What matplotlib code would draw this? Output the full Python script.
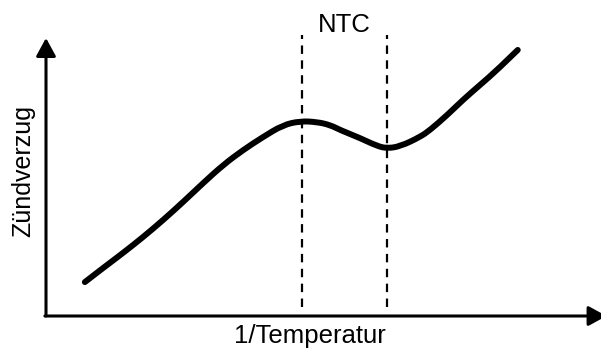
import numpy as np
import matplotlib.pyplot as plt
from matplotlib.path import Path
from matplotlib.patches import PathPatch

plt.rcParams['font.family'] = ['Liberation Sans', 'DejaVu Sans']

# ignition delay vs. inverse temperature (schematic units 0..10)
inv_temp = [0.70, 1.03, 1.39, 1.75, 2.11, 2.47, 2.83, 3.19, 3.55, 3.91,
            4.27, 4.58, 4.88, 5.12, 5.30, 5.66, 5.96, 6.14, 6.38, 6.74,
            6.92, 7.23, 7.51, 7.82, 8.13, 8.50]
delay = [1.22, 1.73, 2.27, 2.84, 3.45, 4.10, 4.78, 5.43, 5.97, 6.44,
         6.87, 7.01, 6.98, 6.87, 6.69, 6.40, 6.12, 6.03, 6.10, 6.44,
         6.69, 7.23, 7.77, 8.31, 8.85, 9.57]

# borders of the NTC region
ntc_bounds = [4.61, 6.14]
ntc_top = 10.1
ntc_bottom = 0.32


def smooth_path(xs, ys):
    # quadratic bezier through segment midpoints, readings act as controls
    pts = np.column_stack([xs, ys])
    verts = [pts[0]]
    codes = [Path.MOVETO]
    for i in range(1, len(pts) - 1):
        end = pts[i + 1] if i == len(pts) - 2 else (pts[i] + pts[i + 1]) / 2
        verts += [pts[i], end]
        codes += [Path.CURVE3, Path.CURVE3]
    return Path(verts, codes)


fig = plt.figure(figsize=(6.01, 3.49), dpi=100)
# origin of the diagram sits at pixel (46, 316)
ax = fig.add_axes([46 / 601, 33 / 349, 555 / 601, 278 / 349])
ax.set_xlim(0, 10)
ax.set_ylim(0, 10)
ax.axis('off')

arrow = dict(arrowstyle='-|>,head_length=0.55,head_width=0.3', lw=2.2,
             color='black', mutation_scale=20, shrinkA=0, shrinkB=0)
ax.annotate('', xy=(0, 10.0), xytext=(0, 0), arrowprops=arrow,
            annotation_clip=False)
ax.annotate('', xy=(10.1, 0), xytext=(-0.02, 0), arrowprops=arrow,
            annotation_clip=False)

for xb in ntc_bounds:
    ax.plot([xb, xb], [ntc_bottom, ntc_top], color='black', lw=1.6,
            linestyle=(0, (3.8, 2.9)), clip_on=False)

curve = PathPatch(smooth_path(inv_temp, delay), fill=False, edgecolor='black',
                  lw=4.3, capstyle='round', joinstyle='round', clip_on=False)
ax.add_patch(curve)

ax.text(np.mean(ntc_bounds), 10.22, 'NTC', ha='center', va='baseline',
        fontsize=18.5, clip_on=False)
ax.text(4.75, -0.97, '1/Temperatur', ha='center', va='baseline',
        fontsize=18.5, clip_on=False)
ax.text(-0.41, 5.2, 'Zündverzug', ha='center', va='center', rotation=90,
        fontsize=18, clip_on=False)

fig.savefig('out.png', dpi=100)
